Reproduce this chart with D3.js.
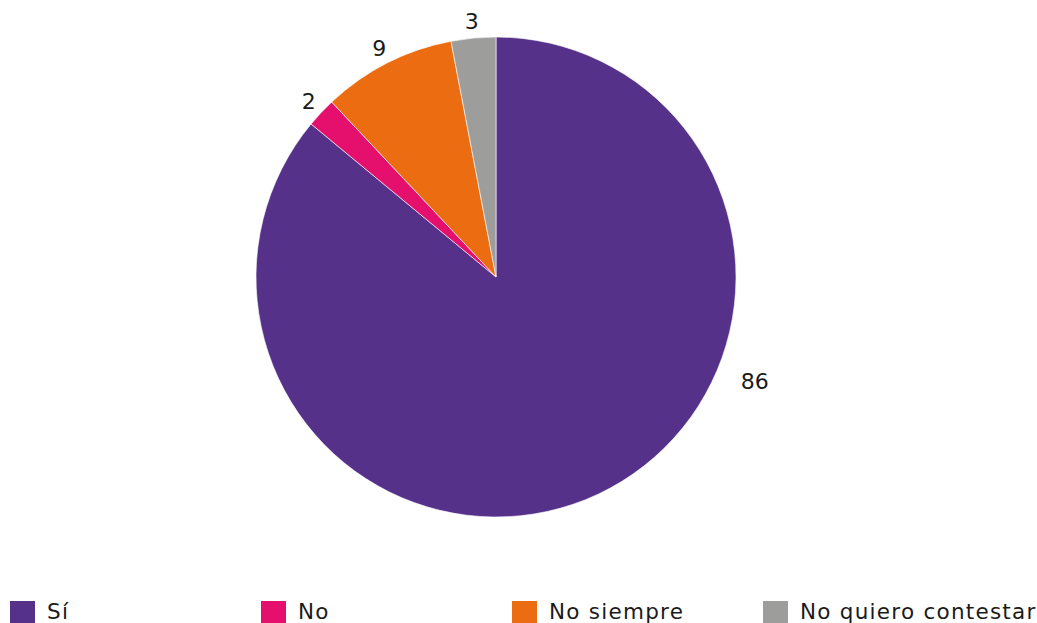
<!DOCTYPE html>
<html>
<head>
<meta charset="utf-8">
<script src="https://cdn.jsdelivr.net/npm/d3@7"></script>
<style>
  html, body { margin: 0; padding: 0; background: #fff; }
  svg { display: block; }
  text { font-family: "DejaVu Sans", sans-serif; fill: #1a1a1a; }
</style>
</head>
<body>
<svg id="chart" width="1037" height="623"></svg>
<script>
// Survey answers (percent)
const categories = ["Sí", "No", "No siempre", "No quiero contestar"];
const values = [86, 2, 9, 3];
const colors = ["#55318A", "#E5106E", "#EC6C12", "#9D9D9C"];

const W = 1037, H = 623;
const cx = 496, cy = 277, radius = 240;
const labelRadius = 257;
// the dominant slice gets its label beside the pie rather than at its midpoint
const bigLabelAngle = 112 * Math.PI / 180, bigLabelRadius = 279;

const svg = d3.select("#chart");
const data = categories.map((c, i) => ({ cat: c, value: values[i], color: colors[i] }));

const pie = d3.pie().value(d => d.value).sort(null);
const arcs = pie(data);
const arc = d3.arc().innerRadius(0).outerRadius(radius);

const g = svg.append("g").attr("transform", `translate(${cx},${cy})`);

g.selectAll("path.slice")
  .data(arcs)
  .enter().append("path")
  .attr("class", "slice")
  .attr("d", arc)
  .attr("fill", d => d.data.color)
  .attr("stroke", "#ffffff")
  .attr("stroke-width", 0.6);

const maxVal = d3.max(values);
g.selectAll("text.lbl")
  .data(arcs)
  .enter().append("text")
  .attr("class", "lbl")
  .attr("x", d => {
    const big = d.data.value === maxVal;
    const a = big ? bigLabelAngle : (d.startAngle + d.endAngle) / 2;
    return Math.sin(a) * (big ? bigLabelRadius : labelRadius);
  })
  .attr("y", d => {
    const big = d.data.value === maxVal;
    const a = big ? bigLabelAngle : (d.startAngle + d.endAngle) / 2;
    return -Math.cos(a) * (big ? bigLabelRadius : labelRadius);
  })
  .attr("text-anchor", "middle")
  .attr("dominant-baseline", "central")
  .attr("font-size", 22)
  .text(d => d.data.value);

// legend along the bottom edge
const legendX = d3.scaleBand().domain(categories).range([10, 1014]);
const leg = svg.append("g").attr("transform", "translate(0,600)");
const item = leg.selectAll("g.item")
  .data(data)
  .enter().append("g")
  .attr("class", "item")
  .attr("transform", d => `translate(${legendX(d.cat)},0)`);
item.append("rect")
  .attr("x", 0).attr("y", 1)
  .attr("width", 25).attr("height", 24)
  .attr("fill", d => d.color);
item.append("text")
  .attr("x", 37).attr("y", 19)
  .attr("font-size", 21.5)
  .attr("letter-spacing", 1.25)
  .text(d => d.cat);
</script>
</body>
</html>
